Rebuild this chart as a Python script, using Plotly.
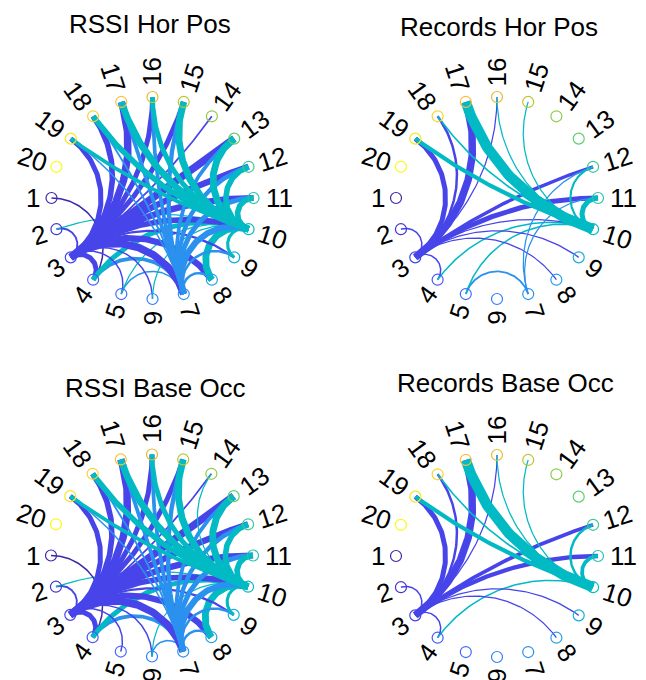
import numpy as np
import plotly.graph_objects as go

N_NODES = 20
node_labels = [str(i) for i in range(1, N_NODES + 1)]
titles = ["RSSI Hor Pos", "Records Hor Pos", "RSSI Base Occ", "Records Base Occ"]
source_nodes = [1, 3, 7, 10]

# Edge strengths from source node (1, 3, 7, 10) to nodes 1..20 (0 = no link)
rssi_hor_from1 = [0, 0, 0, 1.2, 0, 0, 0, 0, 0, 0, 0, 0, 0, 0, 0, 0, 0, 0, 0, 0]
rssi_hor_from3 = [0, 1.5, 0, 4, 1.2, 1.2, 6, 5, 1.8, 4.5, 5, 5, 6, 1.4, 4, 4, 6, 4.5, 4, 0]
rssi_hor_from7 = [0, 0, 0, 3, 1.2, 0, 0, 2, 2, 5, 4, 3.5, 3, 0, 3.5, 3, 3, 1.5, 1.2, 0]
rssi_hor_from10 = [0, 1.0, 0, 4, 1.0, 1.0, 2.5, 5.5, 2.5, 0, 4.5, 4.5, 5.5, 0, 5.5, 4, 5.5, 4.5, 3, 0]

records_hor_from1 = [0] * 20
records_hor_from3 = [0, 1.2, 0, 1.2, 0, 0, 0, 1.0, 1.0, 1.0, 4, 2.7, 0, 0, 0, 1.0, 6, 2, 4, 0]
records_hor_from7 = [0, 0, 0, 0, 1.5, 0, 0, 0, 0, 0, 1.0, 1.0, 0, 0, 0, 0, 0, 0, 0, 0]
records_hor_from10 = [0, 0, 0, 1.2, 1.2, 0, 0, 0, 0, 0, 4, 1.7, 0, 0, 1.0, 1.0, 8.3, 1.3, 3.3, 0]

rssi_base_from1 = [0, 0, 0, 1.2, 0, 0, 0, 0, 0, 0, 0, 0, 0, 0, 0, 0, 0, 0, 0, 0]
rssi_base_from3 = [0, 1.5, 0, 4, 1.2, 1.2, 6, 5, 1.8, 4.5, 5, 5, 6, 1.4, 4, 4, 6, 4.5, 4, 0]
rssi_base_from7 = [0, 0, 0, 3, 0, 1.2, 0, 2, 2, 5, 4, 3.5, 3, 0, 3.5, 3, 3, 1.5, 1.2, 0]
rssi_base_from10 = [0, 1.0, 0, 4, 0, 1.0, 2.5, 5.5, 2.5, 0, 4.5, 4.5, 5.5, 1.0, 5.5, 4, 5.5, 4.5, 3, 0]

records_base_from1 = [0] * 20
records_base_from3 = [0, 1.2, 0, 1.2, 0, 0, 0, 1.0, 1.0, 0, 3.5, 3.0, 0, 0, 0, 1.0, 6, 2, 4, 0]
records_base_from7 = [0] * 20
records_base_from10 = [0, 0, 0, 1.2, 0, 0, 0, 0, 0, 0, 3, 2, 0, 0, 1.0, 1.0, 8.3, 1.3, 3.3, 0]

panels = [
    [rssi_hor_from1, rssi_hor_from3, rssi_hor_from7, rssi_hor_from10],
    [records_hor_from1, records_hor_from3, records_hor_from7, records_hor_from10],
    [rssi_base_from1, rssi_base_from3, rssi_base_from7, rssi_base_from10],
    [records_base_from1, records_base_from3, records_base_from7, records_base_from10],
]

# ---- style / layout ----
OFF = 8                      # page body margin of the browser
W, H = 646 - OFF, 680 - OFF  # figure size (fits the window after the margin)
S = 101.0                    # px per unit radius
RNG = 1.2
centers = [(152.5, 198.0), (497.0, 198.0), (152.0, 555.5), (497.0, 556.0)]
title_pos = [(150, 24.5), (498.5, 27), (155.5, 388), (505, 382.5)]
LABEL_FONT = 26
TITLE_FONT = 26
WIDTH_SCALE = 1.25
FONT = "Liberation Sans, Arial, sans-serif"

PARULA64 = [
    (0.2422, 0.1504, 0.6603), (0.2504, 0.1650, 0.7076), (0.2578, 0.1818, 0.7511), (0.2647, 0.1978, 0.7952),
    (0.2706, 0.2147, 0.8364), (0.2751, 0.2342, 0.8710), (0.2783, 0.2559, 0.8991), (0.2803, 0.2782, 0.9221),
    (0.2813, 0.3006, 0.9414), (0.2810, 0.3228, 0.9579), (0.2795, 0.3447, 0.9717), (0.2760, 0.3667, 0.9829),
    (0.2699, 0.3892, 0.9906), (0.2602, 0.4123, 0.9952), (0.2440, 0.4358, 0.9988), (0.2206, 0.4603, 0.9973),
    (0.1963, 0.4847, 0.9892), (0.1834, 0.5074, 0.9798), (0.1786, 0.5289, 0.9682), (0.1764, 0.5499, 0.9520),
    (0.1687, 0.5703, 0.9359), (0.1540, 0.5902, 0.9218), (0.1460, 0.6091, 0.9079), (0.1380, 0.6276, 0.8973),
    (0.1248, 0.6459, 0.8883), (0.1113, 0.6630, 0.8763), (0.0952, 0.6798, 0.8598), (0.0689, 0.6948, 0.8394),
    (0.0297, 0.7082, 0.8163), (0.0036, 0.7203, 0.7917), (0.0067, 0.7312, 0.7660), (0.0433, 0.7411, 0.7394),
    (0.0964, 0.7500, 0.7120), (0.1408, 0.7584, 0.6842), (0.1717, 0.7670, 0.6554), (0.1938, 0.7758, 0.6251),
    (0.2161, 0.7843, 0.5923), (0.2470, 0.7918, 0.5567), (0.2906, 0.7973, 0.5188), (0.3406, 0.8008, 0.4789),
    (0.3909, 0.8029, 0.4354), (0.4456, 0.8024, 0.3909), (0.5044, 0.7993, 0.3480), (0.5616, 0.7942, 0.3045),
    (0.6174, 0.7876, 0.2612), (0.6720, 0.7793, 0.2227), (0.7242, 0.7698, 0.1910), (0.7738, 0.7598, 0.1646),
    (0.8203, 0.7498, 0.1535), (0.8634, 0.7406, 0.1596), (0.9035, 0.7330, 0.1774), (0.9393, 0.7288, 0.2100),
    (0.9728, 0.7298, 0.2394), (0.9956, 0.7434, 0.2371), (0.9970, 0.7659, 0.2199), (0.9952, 0.7893, 0.2028),
    (0.9892, 0.8136, 0.1885), (0.9786, 0.8386, 0.1766), (0.9676, 0.8639, 0.1643), (0.9610, 0.8890, 0.1537),
    (0.9597, 0.9135, 0.1423), (0.9628, 0.9373, 0.1265), (0.9691, 0.9606, 0.1064), (0.9769, 0.9839, 0.0805),
]


def parula(n):
    base = np.array(PARULA64)
    xs = np.linspace(0, 1, len(base))
    q = np.linspace(0, 1, n)
    cols = []
    for v in q:
        rgb = [np.interp(v, xs, base[:, k]) for k in range(3)]
        cols.append("rgb(%d,%d,%d)" % tuple(int(round(255 * c)) for c in rgb))
    return cols


colors = parula(N_NODES)
theta = np.array([-np.pi + i * 2 * np.pi / N_NODES for i in range(N_NODES)])


def fx(px):
    return (px - OFF) / W


def fy(py):
    return 1 - (py - OFF) / H


def edge_xy(i, j):
    u = np.array([np.cos(theta[i - 1]), np.sin(theta[i - 1])])
    v = np.array([np.cos(theta[j - 1]), np.sin(theta[j - 1])])
    if abs(i - j) == N_NODES // 2:
        s = np.linspace(0, 1, 50)
        return u[0] + s * (v[0] - u[0]), u[1] + s * (v[1] - u[1])
    c = (u + v) / (1 + u @ v)
    r = np.sqrt(c @ c - 1)
    a1 = np.arctan2(u[1] - c[1], u[0] - c[0])
    a2 = np.arctan2(v[1] - c[1], v[0] - c[0])
    d = (a2 - a1 + np.pi) % (2 * np.pi) - np.pi
    s = np.linspace(0, 1, 80)
    a = a1 + s * d
    return c[0] + r * np.cos(a), c[1] + r * np.sin(a)


fig = go.Figure()
annotations = []
layout_axes = {}

for p, (weights, (cx, cy)) in enumerate(zip(panels, centers)):
    k = "" if p == 0 else str(p + 1)
    xa, ya = "x" + k, "y" + k
    layout_axes["xaxis" + k] = dict(
        domain=[fx(cx - RNG * S), fx(cx + RNG * S)], range=[-RNG, RNG], visible=False, fixedrange=True)
    layout_axes["yaxis" + k] = dict(
        domain=[fy(cy + RNG * S), fy(cy - RNG * S)], range=[-RNG, RNG], visible=False, fixedrange=True)

    # edges, drawn column-major (by target, then source)
    edges = []
    for src, row in zip(source_nodes, weights):
        for tgt in range(1, N_NODES + 1):
            w = row[tgt - 1]
            if w > 0 and tgt != src:
                edges.append((tgt, src, w))
    edges.sort()
    for tgt, src, w in edges:
        ex, ey = edge_xy(src, tgt)
        fig.add_trace(go.Scatter(
            x=ex, y=ey, mode="lines", xaxis=xa, yaxis=ya,
            line=dict(color=colors[src - 1], width=w * WIDTH_SCALE), hoverinfo="skip", showlegend=False))

    # nodes
    fig.add_trace(go.Scatter(
        x=np.cos(theta), y=np.sin(theta), mode="markers", xaxis=xa, yaxis=ya,
        marker=dict(symbol="circle-open", size=11, color=colors, line=dict(width=1.2)),
        hoverinfo="text", text=node_labels, showlegend=False))

    # labels
    for i, lab in enumerate(node_labels):
        t = theta[i]
        tdeg = np.degrees(t)
        rot = tdeg + 180 if abs(t) > np.pi / 2 + 1e-9 else tdeg
        wtxt = len(lab) * 0.556 * LABEL_FONT
        r = 1.1 * S + wtxt / 2 + 1
        px = cx + r * np.cos(t)
        py = cy - r * np.sin(t)
        ang = -rot
        ang = (ang + 180) % 360 - 180
        annotations.append(dict(
            x=fx(px), y=fy(py), xref="paper", yref="paper", text=lab, showarrow=False,
            xanchor="center", yanchor="middle", textangle=ang,
            font=dict(family=FONT, size=LABEL_FONT, color="black")))

    tx, ty = title_pos[p]
    annotations.append(dict(
        x=fx(tx), y=fy(ty), xref="paper", yref="paper", text=titles[p], showarrow=False,
        xanchor="center", yanchor="middle", font=dict(family=FONT, size=TITLE_FONT, color="black")))

fig.update_layout(
    width=W, height=H, margin=dict(l=0, r=0, t=0, b=0),
    paper_bgcolor="white", plot_bgcolor="white",
    annotations=annotations, showlegend=False, **layout_axes)

fig.write_html("out.html")
